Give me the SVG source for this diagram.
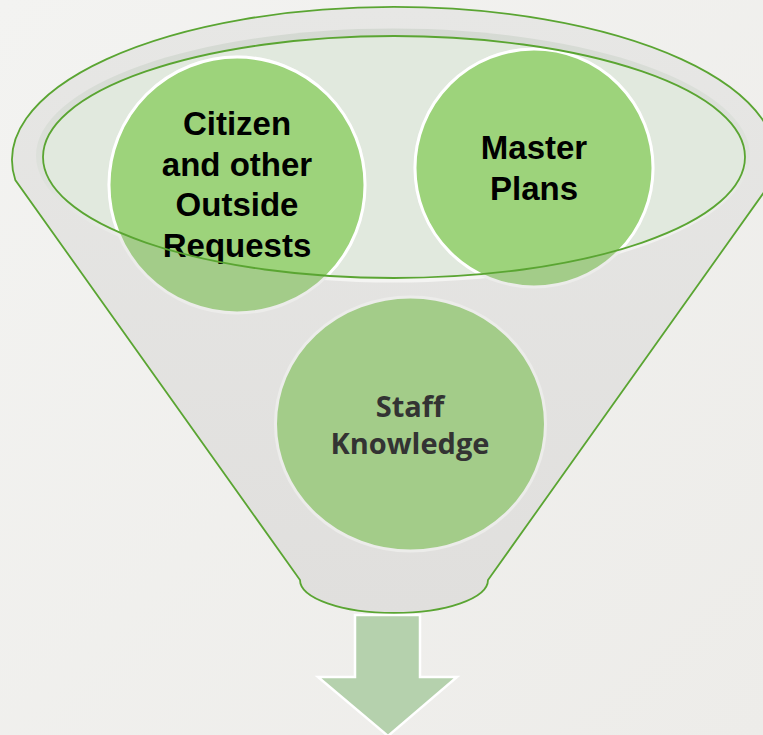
<svg xmlns="http://www.w3.org/2000/svg" width="763" height="735" viewBox="0 0 763 735">
  <defs>
    <linearGradient id="bg" x1="0" y1="0" x2="1" y2="1">
      <stop offset="0" stop-color="#f3f3f1"/>
      <stop offset="1" stop-color="#edece9"/>
    </linearGradient>
    <linearGradient id="body" x1="0" y1="0" x2="0" y2="1">
      <stop offset="0" stop-color="#e7e7e5"/>
      <stop offset="1" stop-color="#e0dfdd"/>
    </linearGradient>
    <linearGradient id="hole" x1="0" y1="0" x2="0.15" y2="1">
      <stop offset="0" stop-color="#d3d8d1"/>
      <stop offset="0.6" stop-color="#dfe2dd"/>
      <stop offset="1" stop-color="#f4f4f2"/>
    </linearGradient>
    <clipPath id="mouth">
      <ellipse cx="394" cy="157" rx="351" ry="121"/>
    </clipPath>
    <style>
      .outline { stroke: #5aa532; stroke-width: 1.8; }
      .circle { fill: #a3cc89; stroke: #ececea; stroke-width: 3; }
      .circle-in { fill: #9dd37b; stroke: #ffffff; stroke-width: 3; }
      .lbl { font-family: "Liberation Sans", Arial, sans-serif; font-weight: bold; font-size: 33px; fill: #000; text-anchor: middle; }
      .lbl2 { font-family: "Open Sans", "Liberation Sans", sans-serif; font-weight: bold; font-size: 29px; fill: #333333; text-anchor: middle; }
    </style>
  </defs>
  <rect width="763" height="735" fill="url(#bg)"/>

  <g id="funnel">
    <path class="outline" fill="url(#body)" d="M 15.3 180 A 382 153 0 1 1 772.7 180 L 488 580 A 94 33 0 0 1 300 580 Z"/>
    <ellipse cx="393" cy="155.5" rx="357" ry="127" fill="url(#hole)"/>
    <ellipse cx="394" cy="157" rx="351" ry="121" fill="#e1e9de"/>
  </g>

  <g id="arrow">
    <polygon points="355,615 420,615 420,677 457,677 388,736 318,677 355,677" fill="#b5d1ad" stroke="#ffffff" stroke-width="2.5" stroke-linejoin="miter"/>
  </g>

  <g id="node-citizen">
    <circle class="circle" cx="237" cy="185" r="128"/>
    <circle class="circle-in" cx="237" cy="185" r="128" clip-path="url(#mouth)"/>
    <text class="lbl" x="237" y="135">Citizen</text>
    <text class="lbl" x="237" y="176">and other</text>
    <text class="lbl" x="237" y="216">Outside</text>
    <text class="lbl" x="237" y="257">Requests</text>
  </g>

  <g id="node-master">
    <circle class="circle" cx="534" cy="168" r="119"/>
    <circle class="circle-in" cx="534" cy="168" r="119" clip-path="url(#mouth)"/>
    <text class="lbl" x="534" y="159">Master</text>
    <text class="lbl" x="534" y="200">Plans</text>
  </g>

  <g id="mouth-rim">
    <ellipse class="outline" cx="394" cy="157" rx="351" ry="121" fill="none"/>
  </g>

  <g id="node-staff">
    <ellipse class="circle" cx="410.5" cy="424" rx="135" ry="127"/>
    <text class="lbl2" x="410" y="417">Staff</text>
    <text class="lbl2" x="410" y="454">Knowledge</text>
  </g>

  <g id="connectors"></g>
</svg>
